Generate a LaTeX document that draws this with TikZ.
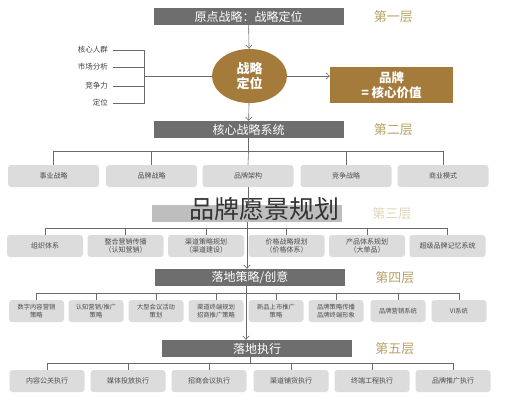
\documentclass[tikz,border=0pt]{standalone}
\usepackage{fontspec}
\setmainfont{Noto Sans CJK SC}
\usetikzlibrary{arrows.meta,positioning,shapes.geometric}
\definecolor{bargray}{HTML}{6E6E6E}
\definecolor{boxgray}{HTML}{DCDCDC}
\definecolor{linegray}{HTML}{6A6A6A}
\definecolor{layergold}{HTML}{B9A265}
\definecolor{coffee}{HTML}{A57B3B}
\tikzset{%
  >={Straight Barb[length=1.2mm,width=2.2mm]},
  % Specifications for style of nodes:
         base/.style = {rectangle, draw=none, inner sep=0pt,
                        text centered, align=center},
          bar/.style = {base, fill=bargray, text=white,
                        minimum width=190pt, minimum height=17pt,
                        font=\fontsize{12}{12}\selectfont},
        layer/.style = {text=layergold, inner sep=0pt,
                        font=\fontsize{13}{13}\selectfont},
         item/.style = {base, rounded corners=3pt, fill=boxgray, text=black!70,
                        minimum height=22pt, font=\fontsize{7}{8.5}\selectfont},
       factor/.style = {inner sep=0pt, text=black!75,
                        font=\fontsize{7.5}{7.5}\selectfont},
         link/.style = {draw=linegray, line width=0.6pt},
}

\begin{document}
\begin{tikzpicture}[x=1pt, y=-1pt]
\useasboundingbox[fill=white] (0,0) rectangle (527,400);
% Layer 1
\node (origin)  [bar] at (248.5,16.5) {原点战略：战略定位};
\node (l1)      [layer, right=30pt of origin] {第一层};
\node (pos)     [ellipse, fill=coffee, text=white, minimum width=75pt,
                 minimum height=54pt, inner sep=0pt, align=center,
                 font=\fontsize{13}{15}\selectfont\bfseries] at (249.5,76) {战略\\定位};
\node (value)   [base, fill=coffee, text=white, minimum width=123pt,
                 minimum height=36pt, font=\fontsize{12.5}{15}\selectfont\bfseries]
                 at (391.5,85) {品牌\\= 核心价值};
\node (crowd)   [factor, anchor=east] at (108,50)  {核心人群};
\node (market)  [factor, anchor=east] at (108,67)  {市场分析};
\node (rival)   [factor, anchor=east] at (108,86)  {竞争力};
\node (locate)  [factor, anchor=east] at (108,103) {定位};
\coordinate (brace) at (144,76);
% Layer 2
\node (core)    [bar] at (248.5,129.5) {核心战略系统};
\node (l2)      [layer, right=30pt of core] {第二层};
\node (b21)     [item, minimum width=91pt] at (53.5,176)  {事业战略};
\node (b22)     [item, minimum width=91pt] at (151.5,176) {品牌战略};
\node (b23)     [item, minimum width=91pt] at (248,176)   {品牌架构};
\node (b24)     [item, minimum width=91pt] at (346,176)   {竞争战略};
\node (b25)     [item, minimum width=91pt] at (443,176)   {商业模式};
% Layer 3
\node (vision)  [bar, fill=bargray!45] at (247,213.5) {};
\node (l3)      [layer, text=layergold!45, right=30pt of vision] {第三层};
\node (b31)     [item, minimum width=76pt] at (45,246)    {组织体系};
\node (b32)     [item, minimum width=76pt] at (125.5,246) {整合营销传播\\（认知营销）};
\node (b33)     [item, minimum width=76pt] at (206,246)   {渠道策略规划\\（渠道建设）};
\node (b34)     [item, minimum width=76pt] at (286.5,246) {价格战略规划\\（价格体系）};
\node (b35)     [item, minimum width=76pt] at (367,246)   {产品体系规划\\（大单品）};
\node (b36)     [item, minimum width=76pt] at (447.5,246) {超级品牌记忆系统};
\coordinate (c3) at (247,228);
% Layer 4
\node (tactic)  [bar] at (250,277.5) {落地策略/创意};
\node (l4)      [layer, right=30pt of tactic] {第四层};
\node (b41)     [item, minimum width=55pt, font=\fontsize{6.3}{7.6}\selectfont] at (36.5,311) {数字内容营销\\策略};
\node (b42)     [item, minimum width=55pt, font=\fontsize{6.3}{7.6}\selectfont] at (96,311)   {认知营销/推广\\策略};
\node (b43)     [item, minimum width=55pt, font=\fontsize{6.3}{7.6}\selectfont] at (156,311)  {大型会议活动\\策划};
\node (b44)     [item, minimum width=55pt, font=\fontsize{6.3}{7.6}\selectfont] at (216,311)  {渠道终端规划\\招商推广策略};
\node (b45)     [item, minimum width=55pt, font=\fontsize{6.3}{7.6}\selectfont] at (276,311)  {新品上市推广\\策略};
\node (b46)     [item, minimum width=55pt, font=\fontsize{6.3}{7.6}\selectfont] at (336,311)  {品牌策略传播\\品牌终端形象};
\node (b47)     [item, minimum width=55pt, font=\fontsize{6.3}{7.6}\selectfont] at (398,311)  {品牌营销系统};
\node (b48)     [item, minimum width=55pt, font=\fontsize{6.3}{7.6}\selectfont] at (459,311)  {VI系统};
\coordinate (c4) at (246,293);
% Layer 5
\node (exec)    [bar] at (257,348.5) {落地执行};
\node (l5)      [layer, right=23pt of exec] {第五层};
\node (b51)     [item, minimum width=75pt] at (47,381)  {内容公关执行};
\node (b52)     [item, minimum width=75pt] at (128,381) {媒体投放执行};
\node (b53)     [item, minimum width=75pt] at (209,381) {招商会议执行};
\node (b54)     [item, minimum width=75pt] at (291,381) {渠道铺货执行};
\node (b55)     [item, minimum width=75pt] at (372,381) {终端工程执行};
\node (b56)     [item, minimum width=75pt] at (453,381) {品牌推广执行};
\coordinate (c5) at (250,363);
% Title laid over layer 3
\node (title)   [text=black!80, inner sep=0pt, font=\fontsize{25}{25}\selectfont]
                 at (264,209) {品牌愿景规划};
% Specification of lines between nodes
\draw[->, link]   (origin) -- (pos);
\draw[->, link]   (pos.east) -- (pos.east -| value.west);
\draw[->, link]   (pos) -- (core);
\draw[link]       ([xshift=5pt]crowd.east) -| (brace);
\draw[link]       ([xshift=5pt]market.east) -| (brace);
\draw[link]       ([xshift=5pt]rival.east) -| (brace);
\draw[link]       ([xshift=5pt]locate.east) -| (brace);
\draw[link]       (brace) -- (pos.west);
\draw[link]       (core.south) -- ++(0,13.5) coordinate (c2);
\draw[link]       (c2) -| (b21.north);
\draw[link]       (c2) -| (b22.north);
\draw[link]       (c2) -- (b23.north);
\draw[link]       (c2) -| (b24.north);
\draw[link]       (c2) -| (b25.north);
\draw[->, link]   (b23.south) -- (b23.south |- vision.north);
\draw[link]       (vision.south -| c3) -- (c3);
\draw[link]       (c3) -| (b31.north);
\draw[link]       (c3) -| (b32.north);
\draw[link]       (c3) -| (b33.north);
\draw[link]       (c3) -| (b34.north);
\draw[link]       (c3) -| (b35.north);
\draw[link]       (c3) -| (b36.north);
\draw[->, link]   (c3) -- (c3 |- tactic.north);
\draw[link]       (tactic.south -| c4) -- (c4);
\draw[link]       (c4) -| (b41.north);
\draw[link]       (c4) -| (b42.north);
\draw[link]       (c4) -| (b43.north);
\draw[link]       (c4) -| (b44.north);
\draw[link]       (c4) -| (b45.north);
\draw[link]       (c4) -| (b46.north);
\draw[link]       (c4) -| (b47.north);
\draw[link]       (c4) -| (b48.north);
\draw[->, link]   (c4) -- (c4 |- exec.north);
\draw[link]       (exec.south -| c5) -- (c5);
\draw[link]       (c5) -| (b51.north);
\draw[link]       (c5) -| (b52.north);
\draw[link]       (c5) -| (b53.north);
\draw[link]       (c5) -| (b54.north);
\draw[link]       (c5) -| (b55.north);
\draw[link]       (c5) -| (b56.north);
\end{tikzpicture}
\end{document}
